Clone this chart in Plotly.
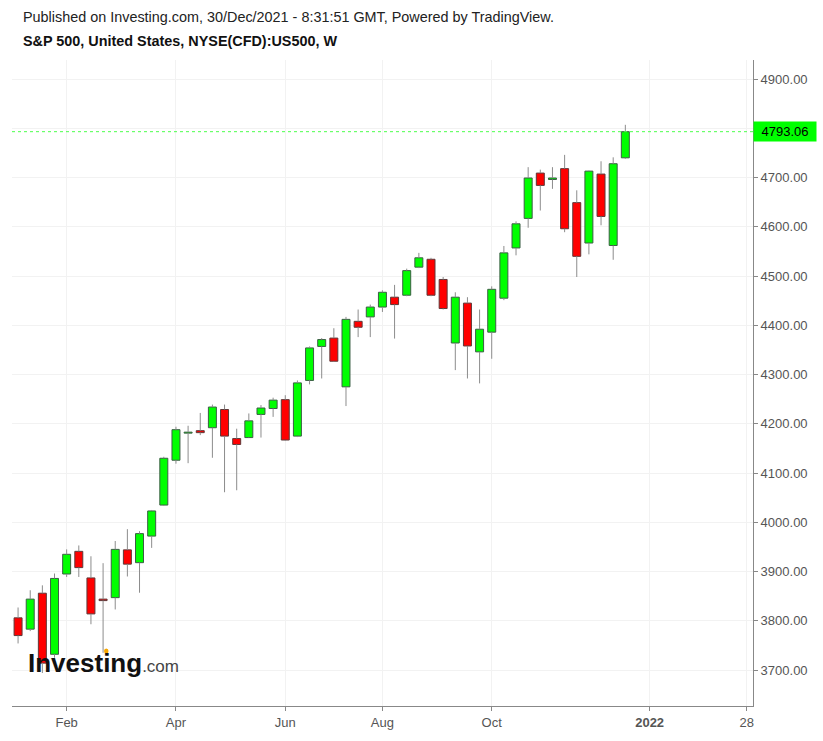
import plotly.graph_objects as go
import pandas as pd

# ---- data (weekly candles, S&P 500 CFD) ----
week_dates = list(pd.date_range("2021-01-04", periods=51, freq="7D"))
open_ = [3806, 3783, 3856, 3732, 3895, 3941, 3887, 3844, 3847, 3944,
         3918, 3972, 4035, 4126, 4181, 4186, 4192, 4229, 4170, 4172,
         4219, 4231, 4249, 4175, 4288, 4357, 4374, 4275, 4408, 4417,
         4437, 4457, 4461, 4518, 4534, 4493, 4364, 4445, 4346, 4386,
         4455, 4557, 4617, 4709, 4696, 4718, 4649, 4567, 4707, 4562,
         4740]
high = [3827, 3862, 3872, 3896, 3945, 3953, 3931, 3917, 3962, 3986,
        3982, 4025, 4133, 4194, 4196, 4222, 4239, 4239, 4190, 4221,
        4238, 4253, 4258, 4288, 4357, 4374, 4394, 4417, 4432, 4442,
        4471, 4482, 4515, 4547, 4537, 4498, 4467, 4457, 4432, 4479,
        4561, 4611, 4721, 4716, 4721, 4746, 4674, 4714, 4733, 4741,
        4807]
low = [3754, 3779, 3694, 3725, 3889, 3889, 3793, 3735, 3823, 3890,
       3857, 3948, 4033, 4119, 4120, 4177, 4131, 4061, 4065, 4171,
       4172, 4214, 4165, 4173, 4280, 4292, 4326, 4236, 4376, 4376,
       4427, 4373, 4459, 4516, 4459, 4432, 4309, 4292, 4282, 4332,
       4451, 4542, 4598, 4633, 4677, 4589, 4498, 4544, 4603, 4533,
       4738]
close = [3770, 3844, 3714, 3886, 3935, 3908, 3814, 3841, 3945, 3915,
         3977, 4023, 4130, 4188, 4183, 4182, 4234, 4175, 4158, 4206,
         4232, 4248, 4167, 4283, 4354, 4371, 4327, 4412, 4396, 4437,
         4467, 4442, 4511, 4537, 4461, 4434, 4457, 4358, 4392, 4473,
         4547, 4606, 4699, 4684, 4699, 4596, 4540, 4713, 4621, 4728,
         4793.06]
last_price = 4793.06

y_tickvals = [3700, 3800, 3900, 4000, 4100, 4200, 4300, 4400, 4500, 4600, 4700, 4800, 4900]
y_ticktext = ["3700.00", "3800.00", "3900.00", "4000.00", "4100.00", "4200.00", "4300.00",
              "4400.00", "4500.00", "4600.00", "4700.00", "", "4900.00"]
x_tickvals = ["2021-02-01", "2021-04-05", "2021-06-07", "2021-08-02", "2021-10-04",
              "2022-01-03", "2022-02-28"]
x_ticktext = ["Feb", "Apr", "Jun", "Aug", "Oct", "<b>2022</b>", "28"]

# ---- derived ----
up = [c >= o for o, c in zip(open_, close)]
body_lo = [min(o, c) for o, c in zip(open_, close)]
body_hi = [max(o, c) for o, c in zip(open_, close)]
body_h = [max(h - l, 0.6) for h, l in zip(body_hi, body_lo)]

wx, wy = [], []
for d, l, h, blo, bhi in zip(week_dates, low, high, body_lo, body_hi):
    wx += [d, d, None, d, d, None]
    wy += [l, blo, None, bhi, h, None]

fig = go.Figure()
fig.add_trace(go.Scatter(x=wx, y=wy, mode="lines",
                         line=dict(color="#8c8c8c", width=1),
                         hoverinfo="skip", connectgaps=False))
fig.add_trace(go.Bar(
    x=week_dates, y=body_h, base=body_lo,
    width=[4.6 * 86400000] * len(week_dates),
    marker=dict(color=["#00ff00" if u else "#ff0000" for u in up],
                line=dict(color=["#3b5e44" if u else "#5e3838" for u in up], width=1)),
    hoverinfo="skip"))

font_family = "Liberation Sans, Arial, sans-serif"
fig.update_layout(
    width=823, height=741,
    margin=dict(l=12, r=70, t=60, b=35),
    paper_bgcolor="white", plot_bgcolor="white",
    showlegend=False, hovermode=False,
    font=dict(family=font_family, size=13, color="#555555"),
    xaxis=dict(type="date",
               range=["2020-12-31 12:00", "2022-03-03 14:00"],
               tickvals=x_tickvals, ticktext=x_ticktext,
               showgrid=True, gridcolor="#f2f2f2", gridwidth=1,
               ticks="outside", ticklen=4, tickcolor="#888888",
               showline=True, linecolor="#888888", linewidth=1,
               tickfont=dict(size=13, color="#555555"),
               zeroline=False, fixedrange=True),
    yaxis=dict(side="right", range=[3627, 4938.6],
               tickvals=y_tickvals, ticktext=y_ticktext,
               showgrid=True, gridcolor="#f2f2f2", gridwidth=1,
               ticks="outside", ticklen=4, tickcolor="#888888",
               showline=True, linecolor="#888888", linewidth=1,
               tickfont=dict(size=13, color="#555555"),
               zeroline=False, fixedrange=True),
)

# current price dotted line and label
fig.add_shape(type="line", xref="paper", yref="y", x0=0, x1=1,
              y0=last_price, y1=last_price,
              line=dict(color="#4cff4c", width=1, dash="dot"))
fig.add_annotation(xref="paper", yref="y", x=0.9995, y=last_price,
                   xanchor="left", yanchor="middle", showarrow=False,
                   text=f"{last_price:.2f}", bgcolor="#00ff00",
                   width=58, height=15, align="center",
                   font=dict(color="black", size=13, family=font_family),
                   borderpad=2)

# clip the partially-hidden last x label
fig.add_shape(type="rect", xref="paper", yref="paper", x0=1.0015, x1=1.2,
              y0=-0.06, y1=-0.003, fillcolor="white", line=dict(width=0),
              layer="above")

# header texts
fig.add_annotation(xref="paper", yref="paper", x=0.0125, y=1.0666,
                   xanchor="left", yanchor="middle", showarrow=False,
                   text="Published on Investing.com, 30/Dec/2021 - 8:31:51 GMT, Powered by TradingView.",
                   font=dict(size=14.4, color="#222222", family=font_family))
fig.add_annotation(xref="paper", yref="paper", x=0.0125, y=1.0294,
                   xanchor="left", yanchor="middle", showarrow=False,
                   text="<b>S&P 500, United States, NYSE(CFD):US500, W</b>",
                   font=dict(size=14.4, color="#111111", family=font_family))

# watermark
fig.add_annotation(xref="paper", yref="paper", x=0.019, y=0.0666,
                   xanchor="left", yanchor="middle", showarrow=False,
                   text="<b>Investing</b><span style='font-size:17px;color:#444444'>.com</span>",
                   font=dict(size=26, color="#111111", family=font_family))
fig.add_shape(type="circle", xref="paper", yref="paper",
              x0=(104 - 12) / 741, x1=(108.5 - 12) / 741,
              y0=(706 - 653.5) / 646, y1=(706 - 648.5) / 646,
              fillcolor="#f7a600", line=dict(width=0), layer="above")

fig.write_html("out.html")
